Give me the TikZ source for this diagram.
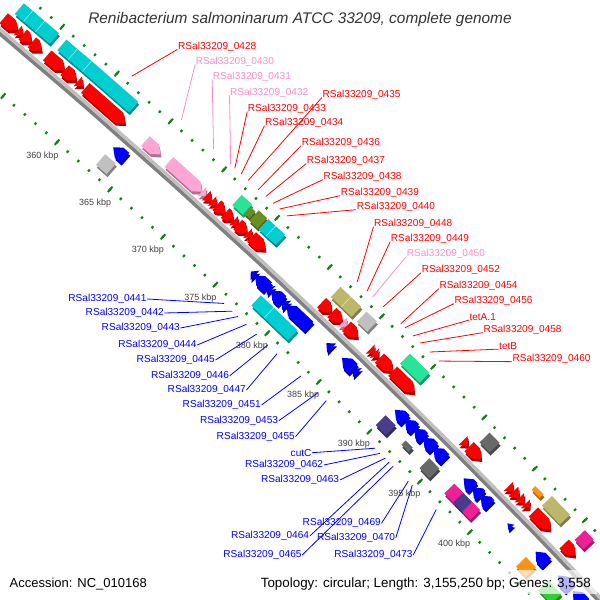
\documentclass[tikz,border=0pt]{standalone}
\usepackage{fontspec}
\setmainfont{Liberation Sans}
\usetikzlibrary{calc}
\definecolor{fred}{RGB}{255,0,0}
\definecolor{fpink}{RGB}{255,165,212}
\definecolor{lblpink}{RGB}{255,140,200}
\definecolor{fcyan}{RGB}{0,206,209}
\definecolor{fsgreen}{RGB}{40,228,150}
\definecolor{folive}{RGB}{107,142,35}
\definecolor{fkhaki}{RGB}{189,183,107}
\definecolor{fsilver}{RGB}{192,192,192}
\definecolor{fdgray}{RGB}{105,105,105}
\definecolor{fblue}{RGB}{0,0,255}
\definecolor{fslate}{RGB}{72,61,139}
\definecolor{fmag}{RGB}{238,32,150}
\definecolor{forange}{RGB}{255,145,20}
\definecolor{fgreen}{RGB}{50,205,50}
\definecolor{tickc}{RGB}{20,130,20}
\definecolor{tlbl}{RGB}{64,64,64}
\definecolor{bblight}{RGB}{192,192,192}
\definecolor{bbdark}{RGB}{128,128,128}
% point at genome position #1 (kbp) and radial offset #2 (px from inner tick ring)
\newcommand{\Pt}[2]{([shift={(-4628,5518)}]xyz polar cs:angle={(#1)*0.1140955-90},radius={7131+(#2)})}
\newcommand{\FwdA}[5]{%
  \pgfmathsetmacro\fnk{max(#1,#2-0.55)}%
  \pgfmathsetmacro\fvm{(#3+#4)/2}%
  \fill[#5!68!black,shift={(1,3)}] \Pt{#1}{#4} -- \Pt{\fnk}{#4} -- \Pt{#2}{\fvm} -- \Pt{\fnk}{#3} -- \Pt{#1}{#3} -- cycle;
  \fill[#5] \Pt{#1}{#4} -- \Pt{\fnk}{#4} -- \Pt{#2}{\fvm} -- \Pt{\fnk}{#3} -- \Pt{#1}{#3} -- cycle;}
\newcommand{\RevA}[5]{%
  \pgfmathsetmacro\fnk{min(#2,#1+0.55)}%
  \pgfmathsetmacro\fvm{(#3+#4)/2}%
  \fill[#5!62!black,shift={(1,3)}] \Pt{#2}{#4} -- \Pt{\fnk}{#4} -- \Pt{#1}{\fvm} -- \Pt{\fnk}{#3} -- \Pt{#2}{#3} -- cycle;
  \fill[#5] \Pt{#2}{#4} -- \Pt{\fnk}{#4} -- \Pt{#1}{\fvm} -- \Pt{\fnk}{#3} -- \Pt{#2}{#3} -- cycle;}
\newcommand{\Bx}[5]{%
  \fill[#5!68!black,shift={(1,3)}] \Pt{#1}{#4} -- \Pt{#2}{#4} -- \Pt{#2}{#3} -- \Pt{#1}{#3} -- cycle;
  \fill[#5] \Pt{#1}{#4} -- \Pt{#2}{#4} -- \Pt{#2}{#3} -- \Pt{#1}{#3} -- cycle;}
\newcommand{\Dv}[3]{\draw[white,opacity=.6,line width=.6] \Pt{#1}{#2} -- \Pt{#1}{#3};}
\newcommand{\Fa}[3]{\FwdA{#1}{#2}{53}{66}{#3}}
\newcommand{\Fb}[3]{\Bx{#1}{#2}{70}{84}{#3}}
\newcommand{\Ra}[3]{\RevA{#1}{#2}{27}{40}{#3}}
\newcommand{\Rb}[3]{\Bx{#1}{#2}{9}{23}{#3}}
% labels with connectors
\newcommand{\FL}[6]{\node[lbl,text=#5,anchor=west] (l#1) at (#2-0.5,#3) {#6};
  \draw[draw=#5,conn] (l#1.base west) -- \Pt{#4}{99} coordinate (e#1);}
\newcommand{\RL}[5]{\node[lbl,text=fblue,anchor=east] (l#1) at (#2+0.5,#3) {#5};
  \draw[draw=fblue,conn] (l#1.east) -- \Pt{#4}{-8} coordinate (e#1);}
\begin{document}
\begin{tikzpicture}[x=1pt,y=-1pt,
  lbl/.style={font=\fontsize{10.1}{12}\selectfont, inner sep=0.5pt},
  conn/.style={line width=0.8pt},
  ticklbl/.style={font=\fontsize{9}{10}\selectfont, text=tlbl, inner sep=0pt}]
\useasboundingbox (0,0) rectangle (600,600);
\clip (0,0) rectangle (600,600);
\fill[white] (0,0) rectangle (600,600);
% backbone
\draw[bbdark,line width=3.6] \Pt{344}{45.3} \foreach \q in {346,348,...,414}{ -- \Pt{\q}{45.3}};
\draw[bblight,line width=3.4] \Pt{344}{48.7} \foreach \q in {346,348,...,414}{ -- \Pt{\q}{48.7}};
% tick rings
\foreach \q in {345,...,412}{
  \draw[tickc,line width=2.2] \Pt{\q}{-1.3} -- \Pt{\q}{1.3};
  \draw[tickc,line width=2.2] \Pt{\q}{89.7} -- \Pt{\q}{92.3};
}
\foreach \q in {345,350,...,410}{
  \draw[tickc,line width=2] \Pt{\q}{-3.5} -- \Pt{\q}{3.5};
  \draw[tickc,line width=2] \Pt{\q}{87.5} -- \Pt{\q}{94.5};
}
% ---------- forward strand, track 1
\Fa{351.5}{352.8}{fred}
\Fa{352.8}{353.25}{fred}
\Fa{353.25}{354.1}{fred}
\Fa{354.1}{355.0}{fred}
\Fa{355.5}{357.1}{fred}
\Fa{357.1}{358.2}{fred}
\Fa{358.3}{358.8}{fred}
\Fa{359.0}{362.7}{fred}
\Fa{364.6}{366.0}{fpink}
\Fa{366.8}{369.9}{fpink}
\Fa{369.9}{370.3}{fpink}
\Fa{370.3}{370.85}{fred}
\Fa{370.85}{371.3}{fred}
\Fa{371.3}{372.1}{fred}
\Fa{372.1}{372.9}{fred}
\Fa{372.9}{373.3}{fred}
\Fa{373.3}{374.2}{fred}
\Fa{374.2}{374.6}{fred}
\Fa{374.6}{375.9}{fred}
\Fa{381.3}{382.3}{fred}
\Fa{382.3}{383.3}{fred}
\Fa{383.3}{383.7}{fpink}
\Fa{383.7}{384.8}{fred}
\Fa{386.0}{386.4}{fred}
\Fa{386.4}{386.8}{fred}
\Fa{386.9}{388.2}{fred}
\Fa{388.2}{390.3}{fred}
\Fa{395.1}{395.6}{fred}
\Fa{395.7}{396.9}{fred}
\Fa{399.6}{400.1}{fred}
\Fa{400.1}{400.7}{fred}
\Fa{400.7}{401.2}{fred}
\Fa{401.3}{401.7}{fred}
\Fa{402.1}{403.8}{fred}
\Fa{405.2}{406.3}{fred}
% ---------- forward strand, track 2
\Fb{351.9}{352.7}{fcyan}\Fb{352.7}{353.8}{fcyan}\Fb{353.8}{355.1}{fcyan}
\Dv{352.7}{70}{84}\Dv{353.8}{70}{84}
\Fb{355.8}{356.8}{fcyan}\Fb{356.8}{358.1}{fcyan}\Fb{358.1}{362.4}{fcyan}
\Dv{356.8}{70}{84}\Dv{358.1}{70}{84}
\Fb{372.1}{373.1}{fsgreen}
\Bx{373.1}{373.6}{72}{81}{folive}
\Fb{373.7}{374.5}{folive}
\Fb{374.6}{375.3}{fcyan}\Fb{375.3}{376.2}{fcyan}
\Dv{375.3}{70}{84}
\Fb{381.5}{382.5}{fkhaki}\Fb{382.5}{383.5}{fkhaki}
\Dv{382.5}{70}{84}
\Fb{384.0}{385.0}{fsilver}
\Fb{388.2}{390.1}{fsgreen}
\Fb{396.0}{397.0}{fdgray}
\Bx{400.9}{401.7}{74}{79}{forange}
\Fb{402.2}{404.0}{fkhaki}
\Fb{405.5}{406.4}{fmag}
% ---------- reverse strand, track 1
\Ra{363.2}{364.3}{fblue}
\Ra{376.2}{376.6}{fblue}
\Ra{376.6}{377.8}{fblue}
\Ra{377.8}{378.15}{fblue}
\Ra{378.15}{379.2}{fblue}
\Ra{379.2}{379.65}{fblue}
\Ra{379.65}{381.8}{fblue}
\Ra{383.5}{384.0}{fblue}
\Ra{385.0}{386.1}{fblue}
\Ra{386.1}{386.5}{fblue}
\Ra{390.2}{391.2}{fblue}
\Ra{391.2}{392.1}{fblue}
\Ra{392.1}{393.0}{fblue}
\Ra{393.0}{394.0}{fblue}
\Ra{394.0}{395.1}{fblue}
\Ra{397.0}{397.9}{fblue}
\Ra{397.9}{398.7}{fblue}
\Ra{398.7}{399.6}{fblue}
\RevA{401.4}{401.8}{29}{37}{fblue}
\Ra{404.2}{405.3}{fblue}
\Ra{406.5}{407.7}{fblue}
\Ra{408.0}{409.2}{fblue}
% ---------- reverse strand, track 2
\Rb{363.1}{364.1}{fsilver}
\Rb{377.85}{379.1}{fcyan}\Rb{379.1}{381.4}{fcyan}
\Dv{379.1}{9}{23}
\Rb{390.0}{391.0}{fslate}
\Bx{392.25}{392.95}{13}{19}{fdgray}
\Rb{394.3}{395.3}{fdgray}
\Rb{396.8}{397.7}{fmag}
\Rb{397.7}{398.6}{fslate}
\Rb{398.6}{399.4}{fmag}
\Rb{404.0}{405.0}{forange}
\Rb{406.3}{407.6}{fgreen}
% ---------- tick labels
\foreach \q in {360,365,...,400}{
  \node[ticklbl] (k\q) at \Pt{\q-0.15}{-20} {\q\ kbp};
}
% ---------- forward labels
\FL{0428}{178}{46.7}{360.9}{fred}{RSal33209\_0428}
\FL{0430}{195.7}{61.7}{365.5}{lblpink}{RSal33209\_0430}
\FL{0431}{212.7}{77}{368.5}{lblpink}{RSal33209\_0431}
\FL{0432}{230}{92.7}{370.1}{lblpink}{RSal33209\_0432}
\FL{0433}{247.7}{109}{370.5}{fred}{RSal33209\_0433}
\FL{0434}{265}{123}{371.1}{fred}{RSal33209\_0434}
\FL{0435}{322.3}{95}{371.75}{fred}{RSal33209\_0435}
\FL{0436}{301.7}{143}{372.7}{fred}{RSal33209\_0436}
\FL{0437}{306.7}{161}{373.4}{fred}{RSal33209\_0437}
\FL{0438}{323.3}{177}{374.1}{fred}{RSal33209\_0438}
\FL{0439}{340.7}{193}{374.7}{fred}{RSal33209\_0439}
\FL{0440}{356.7}{207}{375.4}{fred}{RSal33209\_0440}
\FL{0448}{374}{224}{382.1}{fred}{RSal33209\_0448}
\FL{0449}{390.7}{239}{383.05}{fred}{RSal33209\_0449}
\FL{0450}{406.7}{254}{383.6}{lblpink}{RSal33209\_0450}
\FL{0452}{421.7}{270}{384.6}{fred}{RSal33209\_0452}
\FL{0454}{439.3}{286}{386.3}{fred}{RSal33209\_0454}
\FL{0456}{454.3}{301}{386.7}{fred}{RSal33209\_0456}
\FL{tetA}{469.3}{316.7}{387.5}{fred}{tetA.1}
\FL{0458}{483.3}{330}{388.2}{fred}{RSal33209\_0458}
\FL{tetB}{499}{345.7}{389.1}{fred}{tetB}
\FL{0460}{512.3}{359}{390.0}{fred}{RSal33209\_0460}
% ---------- reverse labels
\RL{0441}{146.7}{299}{376.35}{RSal33209\_0441}
\RL{0442}{164}{313}{377.15}{RSal33209\_0442}
\RL{0443}{180}{328}{377.7}{RSal33209\_0443}
\RL{0444}{196.7}{345}{378.5}{RSal33209\_0444}
\RL{0445}{215}{360}{379.5}{RSal33209\_0445}
\RL{0446}{229.3}{375.7}{380.6}{RSal33209\_0446}
\RL{0447}{246}{390}{381.5}{RSal33209\_0447}
\RL{0451}{261}{405}{383.8}{RSal33209\_0451}
\RL{0453}{278.3}{420.7}{385.5}{RSal33209\_0453}
\RL{0455}{295}{436.7}{386.3}{RSal33209\_0455}
\RL{cutC}{311.7}{452.7}{391.1}{cutC}
\RL{0462}{323.3}{465}{391.6}{RSal33209\_0462}
\RL{0463}{339.3}{480}{392.1}{RSal33209\_0463}
\RL{0464}{309.3}{536}{392.5}{RSal33209\_0464}
\RL{0465}{301.7}{555}{392.9}{RSal33209\_0465}
\RL{0469}{381}{523.3}{394.4}{RSal33209\_0469}
\RL{0470}{395.3}{537.7}{394.8}{RSal33209\_0470}
\RL{0473}{412.7}{555}{397.2}{RSal33209\_0473}
% ---------- title and legend
\node[anchor=base, inner sep=0pt, font=\fontsize{15.4}{18}\itshape\selectfont, text=black!80] (title) at (300,23.5) {Renibacterium salmoninarum ATCC 33209, complete genome};
\fill[white,opacity=0.7] (5,570) rectangle (134,594);
\fill[white,opacity=0.7] (256,570) rectangle (597,594);
\node[anchor=base west, inner sep=0pt, font=\fontsize{13}{15}\selectfont] (acc) at (9.5,587) {Accession: NC\_010168};
\node[anchor=base east, inner sep=0pt, font=\fontsize{13.4}{15}\selectfont] (topo) at (591,587) {Topology: circular; Length: 3,155,250 bp; Genes: 3,558};
\end{tikzpicture}
\end{document}
